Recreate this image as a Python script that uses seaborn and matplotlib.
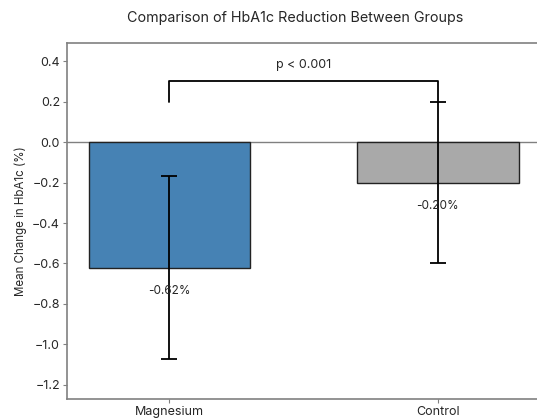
import pandas as pd
import numpy as np
import matplotlib
matplotlib.use("Agg")
import matplotlib.pyplot as plt
import seaborn as sns

groups = ["Magnesium", "Control"]
mean_change = [-0.62, -0.20]
err = [0.45, 0.40]
bar_colors = ["#4682B4", "#A9A9A9"]
p_text = "p < 0.001"

sns.set_style("white")
plt.rcParams['font.family'] = ['Inter', 'DejaVu Sans']

df = pd.DataFrame({"Group": groups, "Change": mean_change})

fig = plt.figure(figsize=(5.37, 4.18), dpi=100)
ax = fig.add_axes([67/537, 19/418, 473/537, 356/418])

sns.barplot(data=df, x="Group", y="Change", hue="Group", palette=bar_colors,
            width=0.6, edgecolor="#222222", linewidth=1, errorbar=None,
            legend=False, ax=ax, saturation=1)
ax.errorbar(range(len(groups)), mean_change, yerr=err, fmt="none",
            ecolor="black", elinewidth=1.3, capsize=6, capthick=1.3)

ax.axhline(0, color="gray", linewidth=1, zorder=0.5)

# value labels under bars
for i, v in enumerate(mean_change):
    ax.text(i, v - 0.115, f"{v:.2f}%", ha="center", va="center", fontsize=8.5)

# significance bracket
ax.plot([0, 0, 1, 1], [0.2, 0.3, 0.3, 0.2], color="black", linewidth=1.3)
ax.text(0.5, 0.35, p_text, ha="center", va="bottom", fontsize=9)

ax.set_xlim(-0.38, 1.38)
ax.set_ylim(-1.27, 0.49)
ax.set_yticks(np.arange(-1.2, 0.41, 0.2))
ax.set_xlabel("")
ax.set_ylabel("Mean Change in HbA1c (%)", fontsize=8.3, labelpad=4)
ax.tick_params(axis="both", labelsize=9, length=3, pad=2, color="gray", left=True, bottom=True)
for s in ax.spines.values():
    s.set_color("gray")
    s.set_linewidth(1.2)

fig.text(295/537, 1 - 18/418, "Comparison of HbA1c Reduction Between Groups",
         ha="center", va="center", fontsize=10.3)

fig.savefig("out.png", dpi=100)
